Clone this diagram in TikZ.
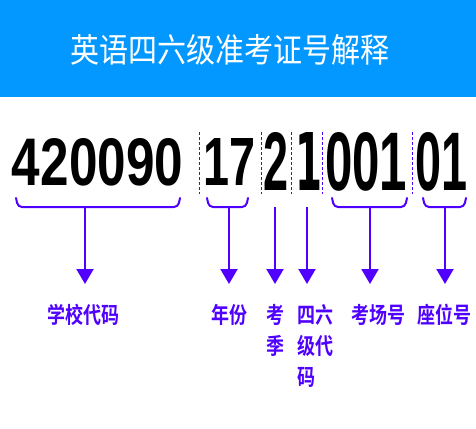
\documentclass[tikz,border=0pt]{standalone}
\usepackage{fontspec}
\usetikzlibrary{arrows.meta}
\newfontfamily\cjk{Noto Sans CJK SC}
\newfontfamily\cjkb{Noto Sans CJK SC Bold}
\newfontfamily\digf{Liberation Sans}
\newfontfamily\digd{DejaVu Sans}
\definecolor{banner}{RGB}{2,152,255}
\definecolor{lineblue}{RGB}{80,0,255}
\newcommand{\tall}[1]{\scalebox{1}[1.25]{#1}}
\tikzset{
  digits/.style={inner sep=0pt, outer sep=0pt, text=black},
  sep/.style={draw=lineblue, dash pattern=on 3pt off 2pt, line width=0.8pt},
  brace/.style={draw=lineblue, line width=2pt, line cap=round, rounded corners=4pt},
  pointer/.style={draw=lineblue, line width=2pt, -{Triangle[width=17pt,length=15pt]}},
  lbl/.style={text=lineblue, font=\cjkb\fontsize{18}{18}\selectfont, inner sep=0pt},
}
\begin{document}
\begin{tikzpicture}[x=1pt,y=-1pt]
\useasboundingbox (0,0) rectangle (476,428);
\fill[white] (0,0) rectangle (476,428);
\fill[banner] (0,0) rectangle (476,97);
\node[text=white, font=\cjk\fontsize{29}{29}\selectfont, inner sep=0pt] (title) at (230,50) {\scalebox{1}[1.15]{英语四六级准考证号解释}};

% digit groups
\node[digits, anchor=north west] (g1) at (12,138) {\resizebox{171pt}{47pt}{\digf\bfseries 420090}};
\node[digits, anchor=north west] (g2) at (203,138) {\resizebox{52pt}{47pt}{\digf\bfseries 17}};
\node[digits, anchor=north west] (g3) at (263,132) {\resizebox{25pt}{58pt}{\digf\bfseries 2}};
\node[digits, anchor=north west] (g4) at (295,132) {\resizebox{27pt}{58pt}{\digd\bfseries 1}};
\node[digits, anchor=north west] (g5) at (325,132) {\resizebox{82pt}{58pt}{\digf\bfseries 001}};
\node[digits, anchor=north west] (g6) at (415,132) {\resizebox{52pt}{58pt}{\digf\bfseries 01}};

% dashed separators
\foreach \x/\n in {199/s1,261/s2,291/s3,322/s4,412/s5}{
  \coordinate (\n t) at (\x,132);
  \coordinate (\n b) at (\x,194);
  \draw[sep] (\n t) -- (\n b);
}

% braces
\coordinate (b1a) at (16,198); \coordinate (b1b) at (180,198);
\draw[brace] (b1a) -- (18,207) -- (178,207) -- (b1b);
\coordinate (b2a) at (207,198); \coordinate (b2b) at (248,198);
\draw[brace] (b2a) -- (209,207) -- (246,207) -- (b2b);
\coordinate (b5a) at (332,198); \coordinate (b5b) at (407,198);
\draw[brace] (b5a) -- (334,207) -- (405,207) -- (b5b);
\coordinate (b6a) at (423,198); \coordinate (b6b) at (466,198);
\draw[brace] (b6a) -- (425,207) -- (464,207) -- (b6b);

% arrow starts
\coordinate (a1) at (85,207);
\coordinate (a2) at (229,207);
\coordinate (a3) at (275,207);
\coordinate (a4) at (307,207);
\coordinate (a5) at (370,207);
\coordinate (a6) at (445,207);

% labels
\node[lbl] (l1) at (83,315) {\tall{学校代码}};
\node[lbl] (l2) at (229,315) {\tall{年份}};
\node[lbl] (l3a) at (275,315) {\tall{考}};
\node[lbl] (l3b) at (275,346) {\tall{季}};
\node[lbl, anchor=west] (l4a) at (297,315) {\tall{四六}};
\node[lbl, anchor=west] (l4b) at (297,346) {\tall{级代}};
\node[lbl, anchor=west] (l4c) at (297,377) {\tall{码}};
\node[lbl] (l5) at (378,315) {\tall{考场号}};
\node[lbl] (l6) at (444,315) {\tall{座位号}};

\draw[pointer] (a1) -- (85,284);
\draw[pointer] (a2) -- (229,284);
\draw[pointer] (a3) -- (275,284);
\draw[pointer] (a4) -- (307,284);
\draw[pointer] (a5) -- (370,284);
\draw[pointer] (a6) -- (445,284);
\end{tikzpicture}
\end{document}
